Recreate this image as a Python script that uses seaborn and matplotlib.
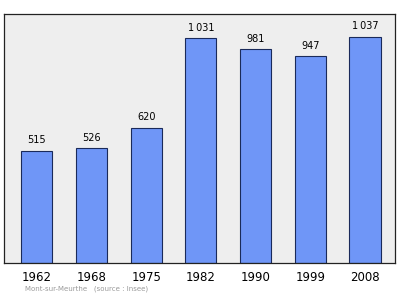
import matplotlib
matplotlib.use("Agg")
import matplotlib.pyplot as plt
import seaborn as sns
import pandas as pd

years = ["1962", "1968", "1975", "1982", "1990", "1999", "2008"]
population = [515, 526, 620, 1031, 981, 947, 1037]
labels = ["515", "526", "620", "1\u2009031", "981", "947", "1\u2009037"]

df = pd.DataFrame({"year": years, "pop": population})

sns.set_style("white")
plt.rcParams["font.family"] = ["DejaVu Sans"]

fig = plt.figure(figsize=(4.0, 2.99), dpi=100)
ax = fig.add_axes([0.01, 0.1204, 0.9775, 0.8326])
ax.set_facecolor("#eeeeee")
sns.barplot(data=df, x="year", y="pop", ax=ax, color="#6f96f7",
            saturation=1, width=0.57, edgecolor="#1a2a5a", linewidth=0.8)
ax.set_xlim(-0.6, 6.55)
ax.set_ylim(0, 1140)
ax.set_xlabel("")
ax.set_ylabel("")
ax.set_yticks([])
ax.tick_params(axis="x", length=0, labelsize=8.5, pad=6, labelcolor="black")
for s in ax.spines.values():
    s.set_color("#222222")
    s.set_linewidth(0.9)
for i, (v, t) in enumerate(zip(population, labels)):
    ax.text(i, v + 24, t, ha="center", va="bottom", fontsize=7, color="black")
fig.text(0.062, 0.022, "Mont-sur-Meurthe   (source : Insee)", fontsize=5,
         color="#9a9a9a", ha="left", va="bottom")
fig.savefig("out.png", dpi=100)
